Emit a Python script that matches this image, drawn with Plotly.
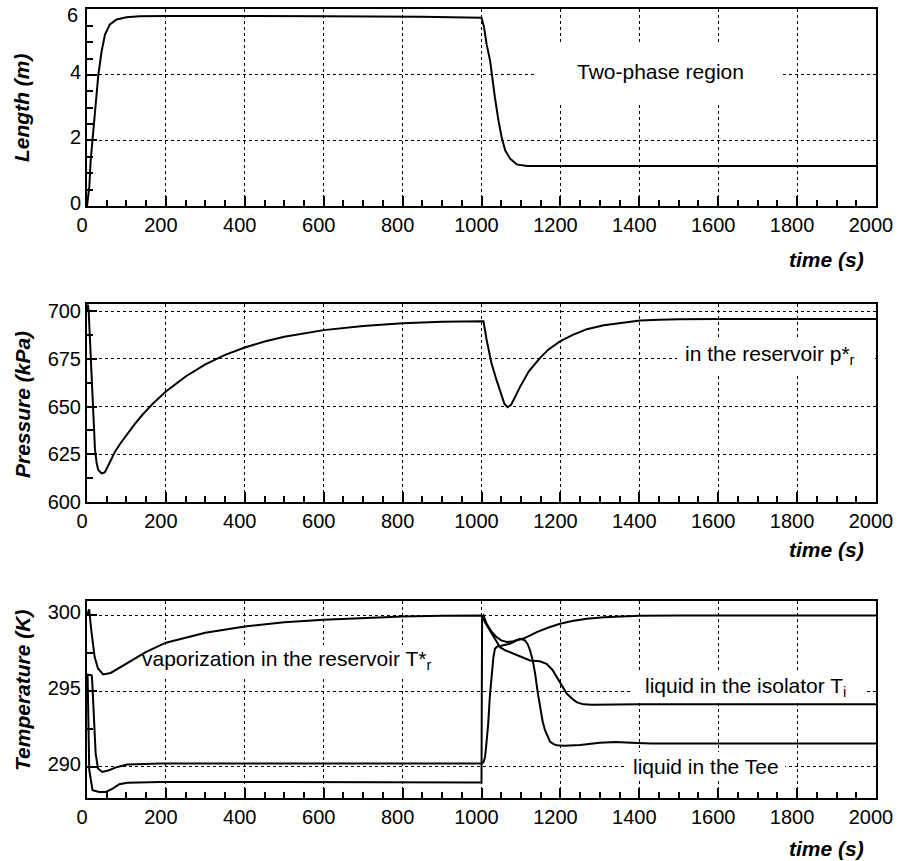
import plotly.graph_objects as go

W, H = 904, 861

# --- two-phase region length ---
len_t = [0, 5.9, 9.3, 13.5, 20.3, 28.7, 37.2, 45.6, 58, 75, 100, 134, 200, 400, 600,
         847, 1000, 1006, 1013, 1022, 1026, 1034, 1043, 1051, 1060, 1072, 1089, 1115, 2000]
len_m = [0, 0.59, 1.39, 2.0, 2.91, 4.0, 4.73, 5.23, 5.54, 5.69, 5.76, 5.79, 5.8, 5.8, 5.79,
         5.77, 5.74, 5.48, 4.93, 4.42, 4.0, 3.31, 2.61, 2.10, 1.70, 1.45, 1.27, 1.22, 1.22]
len_ticks = [0, 2, 4, 6]

# --- reservoir pressure ---
pres_t = [0, 2, 4, 10, 14.4, 20.3, 24.5, 28.7, 37, 45, 58, 71, 85, 100, 120, 140, 170, 200,
          250, 300, 350, 400, 450, 500, 600, 700, 800, 900, 1000, 1005, 1013, 1025, 1038,
          1050, 1058, 1066, 1075, 1085, 1098, 1120, 1148, 1170, 1199, 1230, 1267, 1310,
          1351, 1402, 1450, 1500, 1600, 2000]
pres_kpa = [700, 703.5, 701, 675, 658.8, 627.3, 620.3, 616.8, 615.0, 615.5, 620.8, 626.4,
            630.8, 635.2, 640.6, 645.6, 652.2, 657.9, 665.8, 672.1, 677.1, 681.0, 684.1,
            686.6, 690.1, 692.3, 693.7, 694.5, 695.1, 694.8, 685, 673, 664, 656, 651.5,
            649.7, 651, 655, 660.5, 668.5, 675.4, 680, 684.2, 687.5, 690.6, 692.6, 693.8,
            695.1, 695.5, 695.8, 696.0, 696.0]

# --- temperatures ---
temp_a_t = [0, 5.4, 11, 19.4, 27.9, 41, 60, 80, 100, 150, 200, 300, 400, 500, 600, 700,
            800, 900, 1000, 1010, 1021, 1035, 1047, 1060, 1072, 1090, 1110, 1123, 1148,
            1165, 1180, 1191, 1204, 1216, 1230, 1241, 1258, 1280, 1400, 2000]
temp_a_k = [300.0, 300.4, 299.0, 297.25, 296.5, 296.1, 296.2, 296.5, 296.85, 297.6, 298.2,
            298.85, 299.27, 299.55, 299.72, 299.83, 299.92, 299.97, 300.0, 299.5, 299.0,
            298.4, 297.9, 297.7, 297.58, 297.35, 297.15, 297.03, 296.97, 296.8, 296.4,
            295.93, 295.3, 294.84, 294.5, 294.28, 294.13, 294.1, 294.13, 294.13]

temp_b_t = [0, 12, 13.5, 17.7, 21.9, 27.8, 38.8, 55.7, 76.9, 102, 186, 500, 1000, 1005,
            1009, 1013, 1017, 1021, 1026, 1030, 1034, 1040, 1050, 1060, 1072, 1090, 1106,
            1125, 1140, 1170, 1199, 1230, 1267, 1310, 1351, 1400, 1500, 2000]
temp_b_k = [296.1, 296.05, 295.5, 293.1, 290.9, 289.9, 289.67, 289.78, 290.0, 290.16,
            290.22, 290.22, 290.22, 290.3, 290.66, 291.7, 292.86, 294.6, 296.15, 297.2,
            297.8, 297.95, 298.0, 298.05, 298.13, 298.35, 298.47, 298.7, 298.9, 299.2,
            299.45, 299.63, 299.78, 299.88, 299.93, 299.97, 300.0, 300.0]

temp_c_t = [0, 1.5, 5.7, 14, 31, 48, 65, 82, 102, 186, 500, 1000, 1001.5, 1005, 1013, 1025,
            1038, 1050, 1064, 1081, 1098, 1110, 1117, 1123, 1130, 1136, 1142, 1148, 1155,
            1161, 1168, 1174, 1183, 1191, 1210, 1250, 1300, 1340, 1380, 1430, 1500, 2000]
temp_c_k = [296.1, 296.0, 289.8, 288.46, 288.35, 288.35, 288.57, 288.86, 288.95, 289.01,
            289.0, 288.98, 299.9, 300.0, 299.45, 298.95, 298.57, 298.35, 298.24, 298.3,
            298.46, 298.35, 298.1, 297.7, 297.0, 296.16, 295.0, 293.96, 293.0, 292.42,
            291.95, 291.65, 291.5, 291.43, 291.4, 291.45, 291.6, 291.65, 291.6, 291.55,
            291.54, 291.54]

FONT = "Liberation Sans, Arial, Helvetica, sans-serif"
LEFT, RIGHT = 87, 876
X_RANGE = [0, 2000]
PANELS = [(9, 206), (304, 502), (601, 798)]  # pixel top/bottom of each plot area
Y_RANGES = [[0, 6.01], [600, 703.8], [287.95, 300.95]]


def fx(x):
    return x / W


def fy(y):
    return 1 - y / H


def to_data(panel, px, py):
    """Pixel position -> data coordinates of a panel (for label boxes)."""
    top, bottom = PANELS[panel]
    y0, y1 = Y_RANGES[panel]
    xd = X_RANGE[0] + (px - LEFT) / (RIGHT - LEFT) * (X_RANGE[1] - X_RANGE[0])
    yd = y0 + (bottom - py) / (bottom - top) * (y1 - y0)
    return xd, yd


line = dict(color="black", width=2)
fig = go.Figure()
fig.add_trace(go.Scatter(x=len_t, y=len_m, mode="lines", line=line, xaxis="x", yaxis="y"))
fig.add_trace(go.Scatter(x=pres_t, y=pres_kpa, mode="lines", line=line, xaxis="x2", yaxis="y2"))
for tt, kk in [(temp_a_t, temp_a_k), (temp_b_t, temp_b_k), (temp_c_t, temp_c_k)]:
    fig.add_trace(go.Scatter(x=tt, y=kk, mode="lines", line=line, xaxis="x3", yaxis="y3"))

axis_style = dict(
    ticks="inside", ticklen=10, tickwidth=1.5, tickcolor="black",
    showline=True, linecolor="black", linewidth=2, mirror=True,
    showgrid=True, gridcolor="black", griddash="dot", gridwidth=1,
    zeroline=False, automargin=False, ticklabeloverflow="allow",
    tickfont=dict(family=FONT, size=20, color="black"),
)
x_style = dict(axis_style, range=X_RANGE, tick0=0, dtick=200, ticklabelshift=-5,
               minor=dict(dtick=50, ticks="inside", ticklen=6, tickcolor="black", showgrid=False),
               domain=[fx(LEFT), fx(RIGHT)])

# (first tick, step, minor step, label shift)
y_ticks = [(0, 2, 0.5, -3), (600, 25, 12.5, 0), (290, 5, 2.5, -3)]

layout = dict(
    width=W, height=H, margin=dict(l=0, r=0, t=0, b=0, autoexpand=False),
    template="none", paper_bgcolor="white", plot_bgcolor="white", showlegend=False,
    font=dict(family=FONT, size=20, color="black"),
)
for i, ((top, bottom), rng, (t0, dt, mdt, shift)) in enumerate(zip(PANELS, Y_RANGES, y_ticks)):
    sfx = "" if i == 0 else str(i + 1)
    layout["xaxis" + sfx] = dict(x_style, anchor="y" + sfx)
    layout["yaxis" + sfx] = dict(
        axis_style, range=rng, tick0=t0, dtick=dt, ticklabelshift=shift,
        minor=dict(dtick=mdt, ticks="inside", ticklen=6, tickcolor="black", showgrid=False),
        domain=[fy(bottom), fy(top)], anchor="x" + sfx,
    )
# the top "6" sits at the page edge: keep its tick/grid, draw its label a bit lower
layout["yaxis"].update(tickmode="array", tickvals=len_ticks,
                       ticktext=[str(v) for v in len_ticks[:-1]] + [""])
fig.update_layout(**layout)

annotations = [dict(text=str(len_ticks[-1]), x=fx(80), y=fy(15), xref="paper", yref="paper",
                    showarrow=False, font=dict(size=20, color="black"), xanchor="right",
                    yanchor="middle")]
shapes = []

# axis titles
y_titles = [("Length (m)", 108), ("Pressure (kPa)", 405), ("Temperature (K)", 691)]
for text, yc in y_titles:
    annotations.append(dict(text=f"<b><i>{text}</i></b>", x=fx(22), y=fy(yc), xref="paper",
                            yref="paper", showarrow=False, textangle=-90,
                            font=dict(size=21, color="black"), xanchor="center",
                            yanchor="middle"))
for yc in [260, 549, 848]:
    annotations.append(dict(text="<b><i>time (s)</i></b>", x=fx(866), y=fy(yc), xref="paper",
                            yref="paper", showarrow=False, font=dict(size=21, color="black"),
                            xanchor="right", yanchor="middle"))

# in-plot labels: (panel, text, left x, centre y, white box x0, x1, y0, y1 in pixels)
labels = [
    (0, "Two-phase region", 575, 72, (537, 783, 42, 103)),
    (1, "in the reservoir p*<sub>r</sub>", 683, 355, (677, 875, 340, 373)),
    (2, "vaporization in the reservoir T*<sub>r</sub>", 140, 660, (134, 440, 645, 677)),
    (2, "liquid in the isolator T<sub>i</sub>", 643, 687, (632, 867, 670, 702)),
    (2, "liquid in the Tee", 631, 766, (627, 785, 752, 781)),
]
for panel, text, x0, yc, (bx0, bx1, by0, by1) in labels:
    sfx = "" if panel == 0 else str(panel + 1)
    xa, ya = to_data(panel, bx0, by1)
    xb, yb = to_data(panel, bx1, by0)
    shapes.append(dict(type="rect", xref="x" + sfx, yref="y" + sfx, x0=xa, x1=xb,
                       y0=ya, y1=yb, fillcolor="white", line=dict(width=0),
                       layer="between"))
    annotations.append(dict(text=text, x=fx(x0), y=fy(yc), xref="paper", yref="paper",
                            showarrow=False, font=dict(size=21, color="black"),
                            xanchor="left", yanchor="middle"))

fig.update_layout(annotations=annotations, shapes=shapes)
# drop the browser's default 8px body margin so the figure sits at the page origin
fig.write_html("out.html", config={"displayModeBar": False},
               post_script="document.body.style.margin = '0px';")
